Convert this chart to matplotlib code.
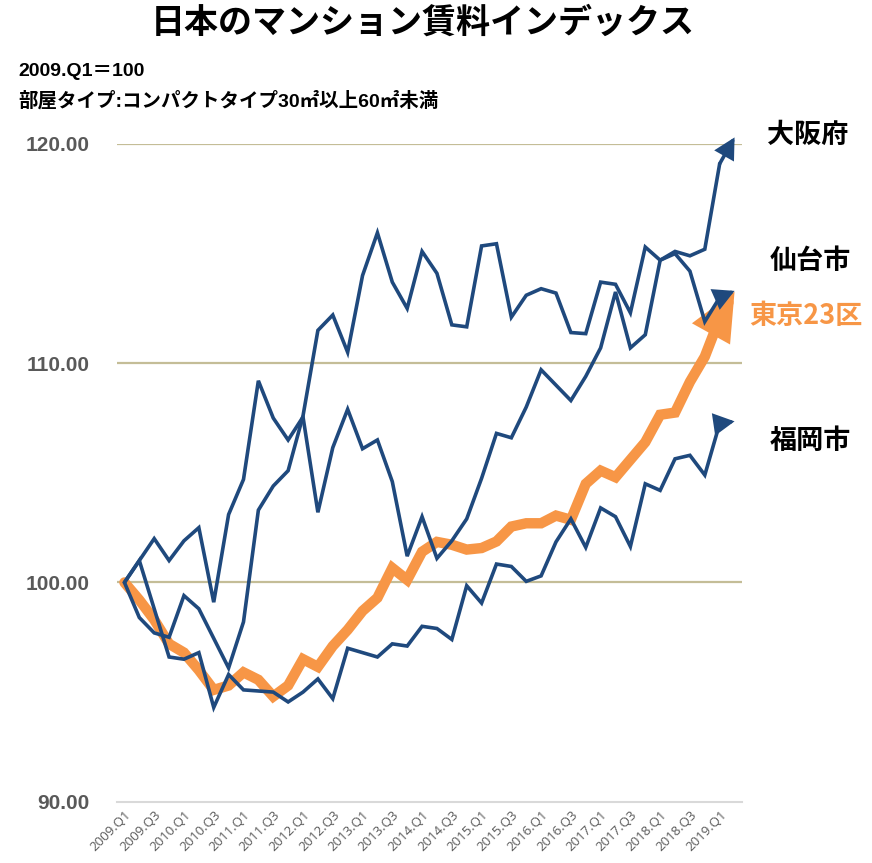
import matplotlib
matplotlib.use("Agg")
import matplotlib.pyplot as plt

plt.rcParams['font.family'] = ['Noto Sans CJK JP', 'DejaVu Sans']

quarters = [f"{y}.Q{q}" for y in range(2009, 2020) for q in range(1, 5)][:42]

osaka = [100.0, 98.4, 97.7, 97.5, 99.4, 98.8, 97.45, 96.1, 98.2, 103.3,
         104.4, 105.1, 107.6, 111.5, 112.2, 110.5, 114.0, 115.95, 113.7, 112.5,
         115.1, 114.1, 111.75, 111.66, 115.35, 115.45, 112.1, 113.1, 113.4, 113.2,
         111.4, 111.35, 113.7, 113.6, 112.3, 115.3, 114.7, 115.1, 114.9, 115.2,
         119.1, 120.3]
sendai = [100.0, 101.0, 102.0, 101.0, 101.9, 102.5, 99.1, 103.1, 104.7, 109.2,
          107.5, 106.5, 107.55, 103.2, 106.15, 107.9, 106.1, 106.5, 104.6, 101.2,
          103.0, 101.1, 101.9, 102.9, 104.75, 106.8, 106.6, 108.0, 109.7, 109.0,
          108.3, 109.4, 110.7, 113.25, 110.7, 111.3, 114.7, 115.0, 114.2, 111.9,
          113.0, 113.3]
tokyo = [100.0, 99.2, 98.3, 97.2, 96.8, 96.0, 95.1, 95.3, 95.9, 95.56,
         94.8, 95.3, 96.5, 96.15, 97.1, 97.84, 98.7, 99.3, 100.66, 100.12,
         101.4, 101.85, 101.72, 101.5, 101.57, 101.87, 102.55, 102.7, 102.7, 103.05,
         102.86, 104.5, 105.1, 104.8, 105.6, 106.4, 107.65, 107.75, 109.15, 110.3,
         112.05, 113.27]
fukuoka = [100.0, 101.0, 98.8, 96.6, 96.5, 96.8, 94.3, 95.8, 95.1, 95.05,
           95.0, 94.55, 95.0, 95.6, 94.7, 97.0, 96.8, 96.6, 97.2, 97.1,
           98.0, 97.9, 97.4, 99.85, 99.06, 100.84, 100.73, 100.05, 100.3, 101.85,
           102.9, 101.6, 103.4, 103.0, 101.64, 104.5, 104.2, 105.64, 105.8, 104.9,
           107.25, 107.35]

yticks = [90, 100, 110, 120]

blue = '#1F497D'
orange = '#F79646'
grid_c = '#C4BD97'

fig = plt.figure(figsize=(8.72, 8.63), dpi=100)
ax = fig.add_axes([117/872, 1 - 801.7/863, 625/872, (801.7 - 144)/863])

x = list(range(len(quarters)))

def draw(vals, color, lw, hl, hw, ms, z):
    # line up to the second-last point, last segment carries the arrow head
    ax.plot(x[:-1], vals[:-1], color=color, lw=lw, solid_joinstyle='miter',
            solid_capstyle='round', zorder=z, clip_on=False)
    ax.annotate('', xy=(x[-1], vals[-1]), xytext=(x[-2], vals[-2]),
                arrowprops=dict(arrowstyle=f'-|>,head_length={hl},head_width={hw}',
                                color=color, lw=lw, mutation_scale=ms,
                                shrinkA=0, shrinkB=0, joinstyle='miter'),
                zorder=z, annotation_clip=False)

draw(tokyo, orange, 7.5, 1.0, 0.45, 22, 3)
draw(fukuoka, blue, 2.6, 0.75, 0.4, 15, 4)
draw(sendai, blue, 2.6, 0.75, 0.4, 15, 4)
draw(osaka, blue, 2.6, 0.75, 0.4, 15, 4)

ax.set_xlim(-0.5, len(quarters) - 0.5)
ax.set_ylim(90, 120)
ax.set_yticks(yticks)
ax.set_yticklabels([f"{v:.2f}" for v in yticks], fontsize=15, fontweight='bold',
                   color='#595959', family=['Liberation Sans', 'DejaVu Sans'])
ax.set_xticks(x[::2])
ax.set_xticklabels(quarters[::2], rotation=45, ha='right', va='top',
                   rotation_mode='anchor', fontsize=9.5, color='#595959',
                   family=['Open Sans', 'DejaVu Sans'])
ax.tick_params(axis='both', length=0)
ax.tick_params(axis='x', pad=5)
ax.tick_params(axis='y', pad=19.5)

for v in yticks[1:]:
    ax.axhline(v, color=grid_c, lw=1.6, zorder=1)
for s in ['top', 'right', 'left']:
    ax.spines[s].set_visible(False)
ax.spines['bottom'].set_color('#D9D9D9')
ax.spines['bottom'].set_linewidth(1.5)

fig.text(423/872, 1 - 22/863, '日本のマンション賃料インデックス', ha='center', va='center',
         fontsize=24.5, fontweight='bold')
fig.text(18/872, 1 - 72/863, '2009.Q1＝100', ha='left', va='center',
         fontsize=14, fontweight='bold', family=['Liberation Sans', 'Noto Sans CJK JP'])
fig.text(18/872, 1 - 101/863, '部屋タイプ:コンパクトタイプ30㎡以上60㎡未満', ha='left', va='center',
         fontsize=14, fontweight='bold', family=['Liberation Sans', 'Noto Sans CJK JP'])

fig.text(808/872, 1 - 135/863, '大阪府', ha='center', va='center', fontsize=19.5, fontweight='bold')
fig.text(810/872, 1 - 261/863, '仙台市', ha='center', va='center', fontsize=19.5, fontweight='bold')
fig.text(806/872, 1 - 316/863, '東京23区', ha='center', va='center', fontsize=19.5,
         fontweight='bold', color=orange)
fig.text(810/872, 1 - 441/863, '福岡市', ha='center', va='center', fontsize=19.5, fontweight='bold')

fig.savefig('out.png', dpi=100)
